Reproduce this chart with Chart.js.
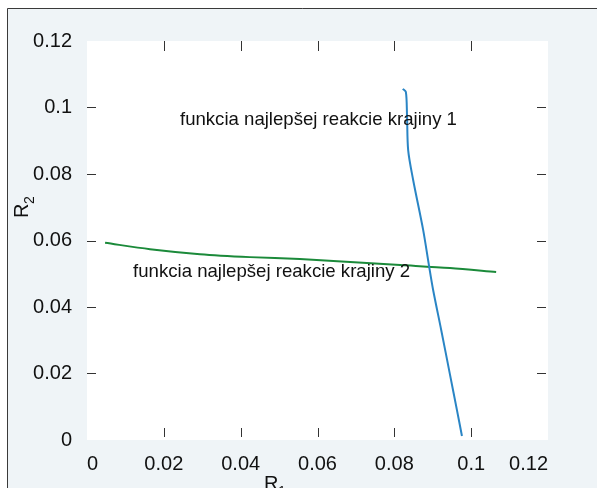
<!DOCTYPE html>
<html>
<head>
<meta charset="utf-8">
<script src="https://cdn.jsdelivr.net/npm/chart.js@4/dist/chart.umd.min.js"></script>
<style>
  html, body { margin: 0; padding: 0; background: #fff; }
  canvas { display: block; }
</style>
</head>
<body>
<canvas id="Graph" width="597" height="488"></canvas>
<script>
let canvas = document.getElementById("Graph");

// best response of country 1 (blue) : [R1, R2]
const country1R1 = [0.0822, 0.0830, 0.0833, 0.0836, 0.0849, 0.0875, 0.0890, 0.0901, 0.0922, 0.0945, 0.0963, 0.0976];
const country1R2 = [0.1056, 0.1047, 0.0977, 0.0872, 0.0782, 0.0632, 0.0526, 0.0451, 0.0331, 0.0196, 0.0090, 0.0012];

// best response of country 2 (green)
const country2R1 = [0.0047, 0.0164, 0.0294, 0.0424, 0.0554, 0.0685, 0.0815, 0.0945, 0.1065];
const country2R2 = [0.0593, 0.0574, 0.0559, 0.0550, 0.0544, 0.0535, 0.0526, 0.0517, 0.0505];

const xTicks = [0, 0.02, 0.04, 0.06, 0.08, 0.1, 0.12];
const yTicks = [0, 0.02, 0.04, 0.06, 0.08, 0.1, 0.12];

const label1 = "funkcia najlepšej reakcie krajiny 1";
const label2 = "funkcia najlepšej reakcie krajiny 2";

const toPoints = (xs, ys) => xs.map((x, i) => ({ x: x, y: ys[i] }));

const FONT = "'Liberation Sans', Arial, sans-serif";

const frame = {
  id: 'frame',
  beforeDraw(chart) {
    const c = chart.ctx, a = chart.chartArea;
    c.save();
    c.fillStyle = '#eff4f7';
    c.fillRect(7, 8, chart.width - 7, chart.height - 8);
    c.strokeStyle = '#3a3a3a';
    c.lineWidth = 1;
    c.beginPath();
    c.moveTo(7.5, chart.height);
    c.lineTo(7.5, 8.5);
    c.lineTo(chart.width, 8.5);
    c.stroke();
    c.fillStyle = '#ffffff';
    c.fillRect(a.left, a.top, a.right - a.left, a.bottom - a.top);
    c.restore();
  },
  afterDraw(chart) {
    const c = chart.ctx, a = chart.chartArea;
    const xs = chart.scales.x, ys = chart.scales.y;
    c.save();
    // inward ticks on all four sides
    c.strokeStyle = '#333';
    c.lineWidth = 1;
    c.beginPath();
    xTicks.slice(1, -1).forEach(v => {
      const px = Math.round(xs.getPixelForValue(v)) + 0.5;
      c.moveTo(px, a.top); c.lineTo(px, a.top + 10);
      c.moveTo(px, a.bottom - 3); c.lineTo(px, a.bottom - 12);
    });
    yTicks.slice(1, -1).forEach(v => {
      const py = Math.round(ys.getPixelForValue(v)) + 0.5;
      c.moveTo(a.left, py); c.lineTo(a.left + 9, py);
      c.moveTo(a.right - 2, py); c.lineTo(a.right - 11, py);
    });
    c.stroke();

    // annotations
    c.fillStyle = '#111';
    c.font = '18.6px ' + FONT;
    c.textBaseline = 'middle';
    c.textAlign = 'left';
    c.fillText(label1, xs.getPixelForValue(0.0242), ys.getPixelForValue(0.0962));
    c.fillText(label2, xs.getPixelForValue(0.0120), ys.getPixelForValue(0.0505));

    // axis titles R1 / R2 with subscripts
    c.font = '20px ' + FONT;
    c.textBaseline = 'alphabetic';
    c.fillText('R', 264, 490);
    c.font = '14px ' + FONT;
    c.fillText('1', 278, 496);

    c.translate(28, 218);
    c.rotate(-Math.PI / 2);
    c.font = '20px ' + FONT;
    c.fillText('R', 0, 0);
    c.font = '14px ' + FONT;
    c.fillText('2', 14, 6);
    c.restore();
  }
};

const config = {
  type: 'scatter',
  data: {
    datasets: [
      {
        label: label1,
        data: toPoints(country1R1, country1R2),
        showLine: true,
        borderColor: '#2a85c5',
        borderWidth: 2,
        pointRadius: 0,
        tension: 0.3,
      },
      {
        label: label2,
        data: toPoints(country2R1, country2R2),
        showLine: true,
        borderColor: '#1b8a3a',
        borderWidth: 2,
        pointRadius: 0,
        tension: 0.3,
      }
    ]
  },
  options: {
    responsive: false,
    animation: false,
    events: [],
    layout: { padding: { top: 41, right: 49, left: 0, bottom: 0 } },
    plugins: {
      legend: { display: false },
      tooltip: { enabled: false }
    },
    scales: {
      x: {
        type: 'linear',
        min: 0,
        max: 0.12,
        afterFit(scale) { scale.height = 48; },
        afterBuildTicks(scale) { scale.ticks = xTicks.map(v => ({ value: v })); },
        grid: { display: false, drawTicks: false },
        border: { display: false },
        ticks: {
          padding: 12,
          align: 'inner',
          color: '#111',
          font: { family: FONT, size: 20 },
          maxRotation: 0,
          callback: v => String(v)
        }
      },
      y: {
        type: 'linear',
        min: 0,
        max: 0.12,
        afterFit(scale) { scale.width = 87; },
        afterBuildTicks(scale) { scale.ticks = yTicks.map(v => ({ value: v })); },
        grid: { display: false, drawTicks: false },
        border: { display: false },
        ticks: {
          padding: 15,
          color: '#111',
          font: { family: FONT, size: 20 },
          callback: v => String(v)
        }
      }
    }
  },
  plugins: [frame]
};

const chart = new Chart(canvas, config);
</script>
</body>
</html>
